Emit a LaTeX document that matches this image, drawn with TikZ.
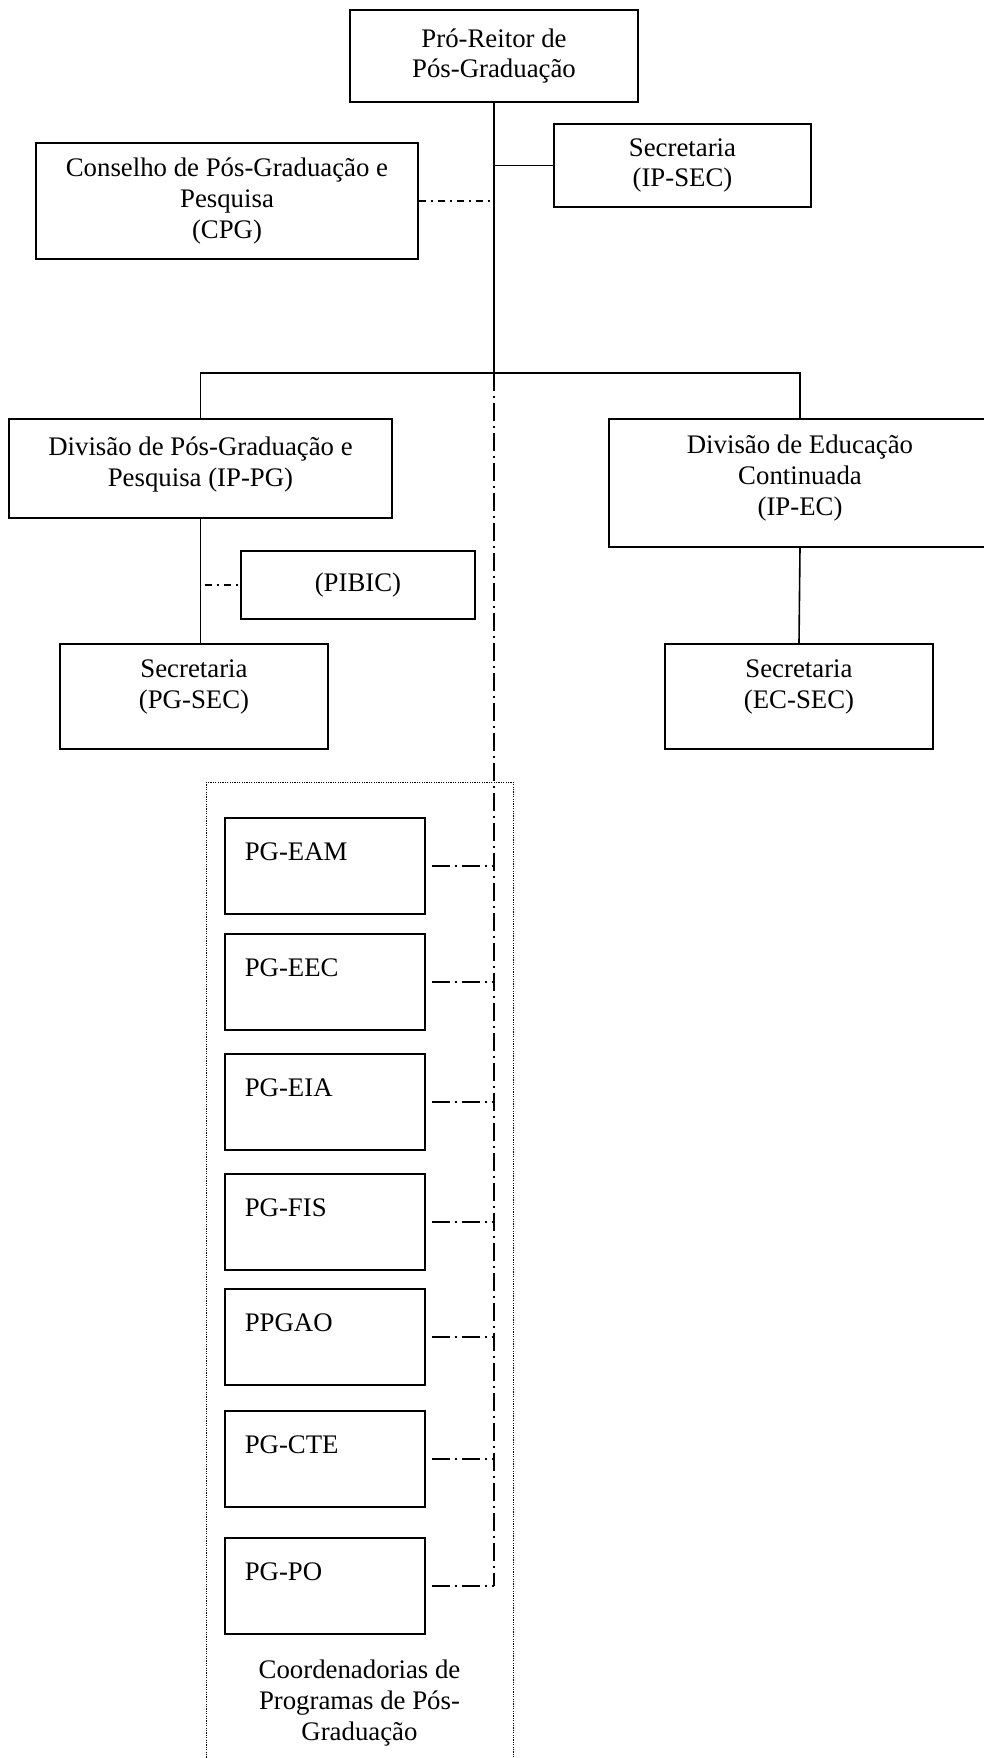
\documentclass[tikz,border=0pt]{standalone}
\usepackage{fontspec}
\setmainfont{Liberation Serif}
\usetikzlibrary{calc}

\newcommand{\CoordBox}[3]{
\node[progbox] (#1) at (224,#3) {#2};
\draw[trunk] ([xshift=3pt]#1.east) -- (#1.east -| BusC);
}

\begin{document}
\begin{tikzpicture}[x=0.5pt, y=-0.5pt,
font=\fontsize{13.4}{15.4}\selectfont,
unitbox/.style={draw, line width=.8pt, align=center, inner sep=0},
progbox/.style={draw, line width=.8pt, anchor=north west, align=left, text width=80pt, inner xsep=10pt, inner ysep=0, text height=21.5pt, text depth=26.5pt},
link/.style={line width=.8pt},
trunk/.style={line width=.8pt, dash pattern=on 9pt off 2.5pt on 1pt off 2.5pt},
shortdash/.style={line width=.8pt, dash pattern=on 3.5pt off 2.5pt on 1pt off 2.5pt},
group/.style={line width=.5pt, dash pattern=on .6pt off .6pt},
]

\useasboundingbox (0,0) rectangle (984,1758);
\clip (0,0) rectangle (984,1758);

%%%%%%%%%%%%%%%%%%%%%%%% TOP %%%%%%%%%%%%%%%%%%%%%%%%%%%
\node[unitbox, minimum width=144pt, minimum height=46pt] (Reitor) at (494,56) {Pró-Reitor de\\Pós-Graduação};
\node[unitbox, minimum width=128.5pt, minimum height=41.5pt] (SecIP) at (682.5,165.5) {Secretaria\\(IP-SEC)};
\node[unitbox, minimum width=191pt, minimum height=58pt] (CPG) at (227,201) {Conselho de Pós-Graduação e\\Pesquisa\\(CPG)};

%%%%%%%%%%%%%%%%%%%%%%%% DIVISIONS %%%%%%%%%%%%%%%%%%%%%%%%%%%
\node[unitbox, minimum width=191.5pt, minimum height=49.5pt, text depth=7pt] (DivPG) at (200.5,468.5) {Divisão de Pós-Graduação e\\Pesquisa (IP-PG)};
\node[unitbox, minimum width=191pt, minimum height=64pt, text depth=8pt] (DivEC) at (800,483) {Divisão de Educação\\Continuada\\(IP-EC)};
\node[unitbox, minimum width=117pt, minimum height=34pt] (PIBIC) at (358,585) {(PIBIC)};
\node[unitbox, minimum width=134pt, minimum height=52.5pt, text depth=12pt] (SecPG) at (194,696.5) {Secretaria\\(PG-SEC)};
\node[unitbox, minimum width=134pt, minimum height=52.5pt, text depth=12pt] (SecEC) at (799,696.5) {Secretaria\\(EC-SEC)};

%%%%%%%%%% bus
\coordinate (BusC) at (494,373);
\coordinate (BusL) at (DivPG.north |- BusC);
\coordinate (BusR) at (DivEC.north |- BusC);

\draw[link] (Reitor.south) -- (BusC);
\draw[link] (SecIP.west) -- (SecIP.west -| BusC);
\draw[shortdash] (CPG.east) -- (CPG.east -| BusC);
\draw[link] (DivPG.north) -- (BusL) -- (BusR) -- (DivEC.north);
\draw[link] (DivPG.south) -- (DivPG.south |- SecPG.north);
\draw[shortdash] ([xshift=2pt]PIBIC.west -| DivPG.south) -- (PIBIC.west);
\draw[link] (DivEC.south) -- (SecEC.north);

%%%%%%%%%%%%%%%%%%%%%%%% COORDENADORIAS %%%%%%%%%%%%%%%%%%%%%%%%%%%
\draw[group] (206,782) rectangle (513,1775);
\node[align=center] (CoordCaption) at (359.5,1703) {Coordenadorias de\\Programas de Pós-\\Graduação};

\CoordBox{PGEAM}{PG-EAM}{817}
\CoordBox{PGEEC}{PG-EEC}{933}
\CoordBox{PGEIA}{PG-EIA}{1053}
\CoordBox{PGFIS}{PG-FIS}{1173}
\CoordBox{PPGAO}{PPGAO}{1288}
\CoordBox{PGCTE}{PG-CTE}{1410}
\CoordBox{PGPO}{PG-PO}{1537}

\draw[trunk] (BusC) -- (PGPO.east -| BusC);

\end{tikzpicture}
\end{document}
